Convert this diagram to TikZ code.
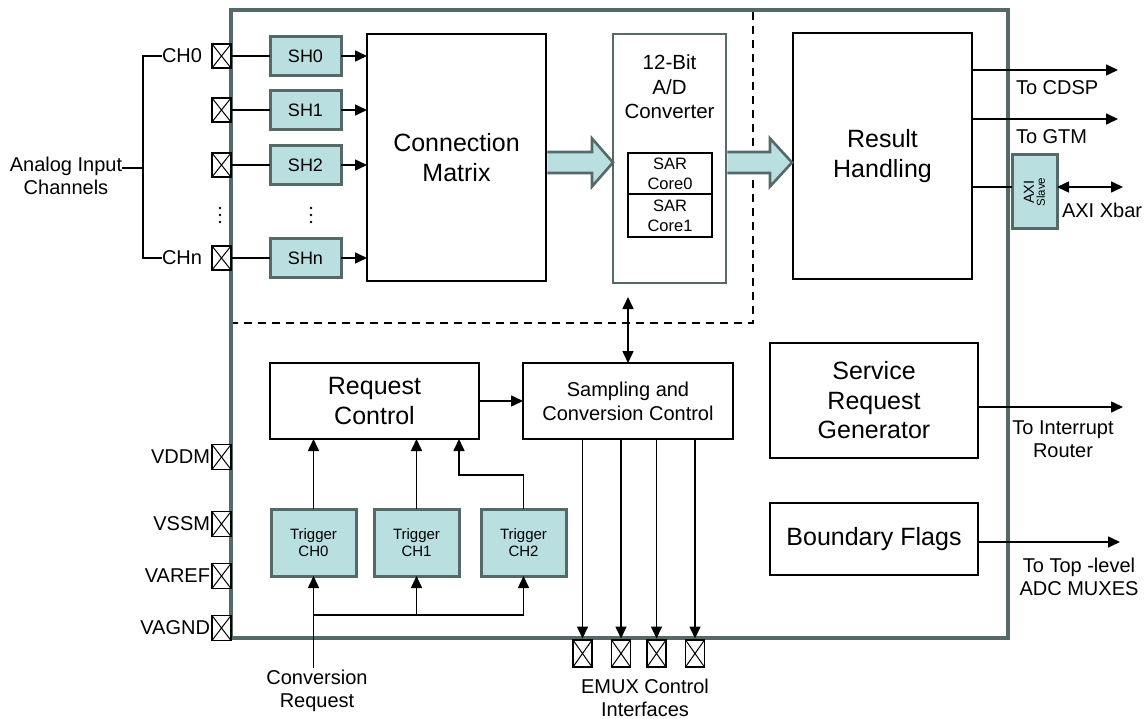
\documentclass[tikz,border=0pt]{standalone}
\usepackage{fontspec}
\setmainfont{Liberation Sans}
\usetikzlibrary{arrows.meta,calc}
\definecolor{tealfill}{HTML}{B9DFE1}
\definecolor{frame}{HTML}{566969}

\begin{document}
\begin{tikzpicture}[x=1pt,y=-1pt,
  every node/.style={inner sep=0pt, outer sep=0pt},
  big/.style={font=\fontsize{25}{29.5}\selectfont},
  mid/.style={font=\fontsize{20}{22.5}\selectfont},
  shbox/.style={draw=frame, fill=tealfill, line width=3pt, minimum width=71pt,
    minimum height=39pt, font=\fontsize{18}{20}\selectfont},
  trig/.style={draw=frame, fill=tealfill, line width=3pt, minimum width=85pt,
    minimum height=67pt, align=center, font=\fontsize{15}{16.5}\selectfont},
  blk/.style={draw=black, line width=2.7pt, fill=white, align=center},
  pin/.style={draw=black, fill=white, line width=1.2pt, minimum width=19pt,
    minimum height=24pt,
    path picture={\draw[line width=1pt]
      (path picture bounding box.north west) -- (path picture bounding box.south east)
      (path picture bounding box.north east) -- (path picture bounding box.south west);}},
  conn/.style={line width=1.6pt},
  arr/.style={conn, -{Triangle[length=12pt,width=11pt]}},
  darr/.style={conn, {Triangle[length=12pt,width=11pt]}-{Triangle[length=12pt,width=11pt]}},
  fat/.style={draw=frame, fill=tealfill, line width=2.6pt, line join=miter},
  dsh/.style={line width=1.5pt, dash pattern=on 8pt off 6pt}
]
\useasboundingbox (0,0) rectangle (1148,719);

% module frame and the analog front-end region
\draw[frame, line width=3.2pt] (231,10) rectangle (1008,638);
\draw[dsh] (753,12) -- (753,323) -- (233,323);

% analog input pins and sample-and-hold stages
\node[pin] (p0) at (221.5,56) {};
\node[pin] (p1) at (221.5,110) {};
\node[pin] (p2) at (221.5,165) {};
\node[pin] (pn) at (221.5,258) {};
\node[shbox] (sh0) at (305.5,56) {SH0};
\node[shbox] (sh1) at (305.5,110) {SH1};
\node[shbox] (sh2) at (305.5,165) {SH2};
\node[shbox] (shn) at (305.5,258) {SHn};
\foreach \x in {220,311}{
  \foreach \y in {208,215,222} \fill (\x,\y) circle (1.4pt);
}

\node[blk, big, minimum width=179pt, minimum height=247pt] (cm) at (456.5,157.5) {Connection\\Matrix};
\foreach \a/\b in {p0/sh0,p1/sh1,p2/sh2,pn/shn}{
  \draw[conn] (\a.east) -- (\b.west);
  \draw[arr] (\b.east) -- (\b.east -| cm.west);
}

% channel labels
\node[mid, anchor=west] (ch0) at (162,56) {CH0};
\node[mid, anchor=west] (chn) at (162,258) {CHn};
\node[mid, align=center] (ain) at (66,176) {Analog Input\\Channels};
\draw[conn] (ch0.west) -- ++(-19,0) coordinate (brt) -- (brt |- chn.west) -- (chn.west);
\draw[conn] ($(ain.east)+(0,-8)$) -- ($(ain.east -| brt)+(0,-8)$);

% converter
\node[draw=frame, line width=2.6pt, fill=white, minimum width=113pt, minimum height=249pt] (adc) at (669.5,158.5) {};
\node[align=center, font=\fontsize{20.5}{24.5}\selectfont] (adct) at (669.5,87) {12-Bit\\A/D\\Converter};
\node[blk, minimum width=84pt, minimum height=41pt, font=\fontsize{16.5}{20}\selectfont] (sar0) at (670,173.5) {SAR\\Core0};
\node[blk, minimum width=84pt, minimum height=43pt, font=\fontsize{16.5}{20}\selectfont] (sar1) at (670,215.5) {SAR\\Core1};

% result handling
\node[blk, big, minimum width=179pt, minimum height=246pt] (rh) at (882.5,156) {Result\\Handling};

% wide data-path arrows
\coordinate (f1a) at ($(cm.east |- 0,162.5)+(1.4,0)$);
\coordinate (f1b) at (adc.west |- 0,162.5);
\draw[fat] (f1a) ++(0,-10.5) -- ($(f1b)+(-21,-10.5)$) -- ($(f1b)+(-21,-24)$) -- (f1b)
  -- ($(f1b)+(-21,24)$) -- ($(f1b)+(-21,10.5)$) -- ($(f1a)+(0,10.5)$);
\coordinate (f2a) at ($(adc.east |- 0,162.5)+(1.3,0)$);
\coordinate (f2b) at ($(rh.west |- 0,162.5)+(-1,0)$);
\draw[fat] (f2a) ++(0,-10.5) -- ($(f2b)+(-22,-10.5)$) -- ($(f2b)+(-22,-24)$) -- (f2b)
  -- ($(f2b)+(-22,24)$) -- ($(f2b)+(-22,10.5)$) -- ($(f2a)+(0,10.5)$);

% result outputs
\coordinate (cdsp) at (1118,70);
\coordinate (gtm) at (1118,119);
\draw[arr] (rh.east |- cdsp) -- (cdsp);
\draw[arr] (rh.east |- gtm) -- (gtm);
\node[mid, anchor=west] (cdspl) at (1016,88) {To CDSP};
\node[mid, anchor=west] (gtml) at (1016,137) {To GTM};
\node[draw=frame, fill=tealfill, line width=3pt, minimum width=45pt, minimum height=74pt] (axi) at (1034.5,192) {};
\node[rotate=90, align=center] (axit) at (axi.center) {{\fontsize{14.5}{14}\selectfont AXI}\\[-1pt]{\fontsize{11.5}{12}\selectfont Slave}};
\coordinate (axil) at (axi.west |- 0,187);
\coordinate (xbar) at (1123,187);
\draw[conn] (rh.east |- axil) -- (axil);
\draw[darr] (axi.east |- xbar) -- (xbar);
\node[mid, anchor=west] (xbarl) at (1062,210) {AXI Xbar};

% control section
\node[blk, big, minimum width=209pt, minimum height=76pt] (rc) at (374.5,401) {Request\\Control};
\node[blk, font=\fontsize{20}{24}\selectfont, minimum width=210pt, minimum height=76pt] (scc) at (628,401) {Sampling and\\Conversion Control};
\draw[arr] (rc.east) -- (scc.west);
\draw[darr] ($(scc.north)+(0,-66)$) -- (scc.north);

\node[trig] (t0) at (313.5,542.5) {Trigger\\CH0};
\node[trig] (t1) at (416.5,542.5) {Trigger\\CH1};
\node[trig] (t2) at (523.5,542.5) {Trigger\\CH2};
\draw[arr] (t0.north) -- (t0.north |- rc.south);
\draw[arr] (t1.north) -- (t1.north |- rc.south);
\draw[arr] (t2.north) -- ++(0,-34) -| ($(rc.south east)+(-20,0)$);

\node[mid, align=center] (cr) at (317,691) {Conversion\\Request};
\draw[arr] (cr.north -| t0.south) ++(0,-2) -- (t0.south);
\coordinate (bus) at (t0.south |- 0,615);
\draw[conn] (bus) -- (bus -| t2.south);
\draw[arr] (bus -| t1.south) -- (t1.south);
\draw[arr] (bus -| t2.south) -- (t2.south);

% EMUX control pins
\node[pin, minimum height=27pt] (e1) at (582.5,653.5) {};
\node[pin, minimum height=27pt] (e2) at (621,653.5) {};
\node[pin, minimum height=27pt] (e3) at (656.5,653.5) {};
\node[pin, minimum height=27pt] (e4) at (695,653.5) {};
\foreach \e in {e1,e2,e3,e4} \draw[arr] (scc.south -| \e) -- ($(\e.north)+(0,-1.5)$);
\node[mid, align=center] (emux) at (645,698) {EMUX Control\\Interfaces};

% service request and boundary flags
\node[blk, big, minimum width=208pt, minimum height=115pt] (srg) at (874,400.5) {Service\\Request\\Generator};
\node[blk, big, minimum width=208pt, minimum height=72pt] (bf) at (874,539) {Boundary Flags};
\coordinate (irq) at (1123,407);
\coordinate (top) at (1120,542);
\draw[arr] (srg.east |- irq) -- (irq);
\draw[arr] (bf.east |- top) -- (top);
\node[mid, align=center] (irql) at (1063,439) {To Interrupt\\Router};
\node[mid, align=center] (topl) at (1079,577) {To Top -level\\ADC MUXES};

% supply pins
\foreach \n/\y in {VDDM/457,VSSM/524,VAREF/576,VAGND/628}{
  \node[pin, minimum height=25pt] (s\n) at (221.5,\y) {};
  \node[mid, anchor=east] (l\n) at ($(s\n.west)+(-2,0)$) {\n};
}
\end{tikzpicture}
\end{document}
